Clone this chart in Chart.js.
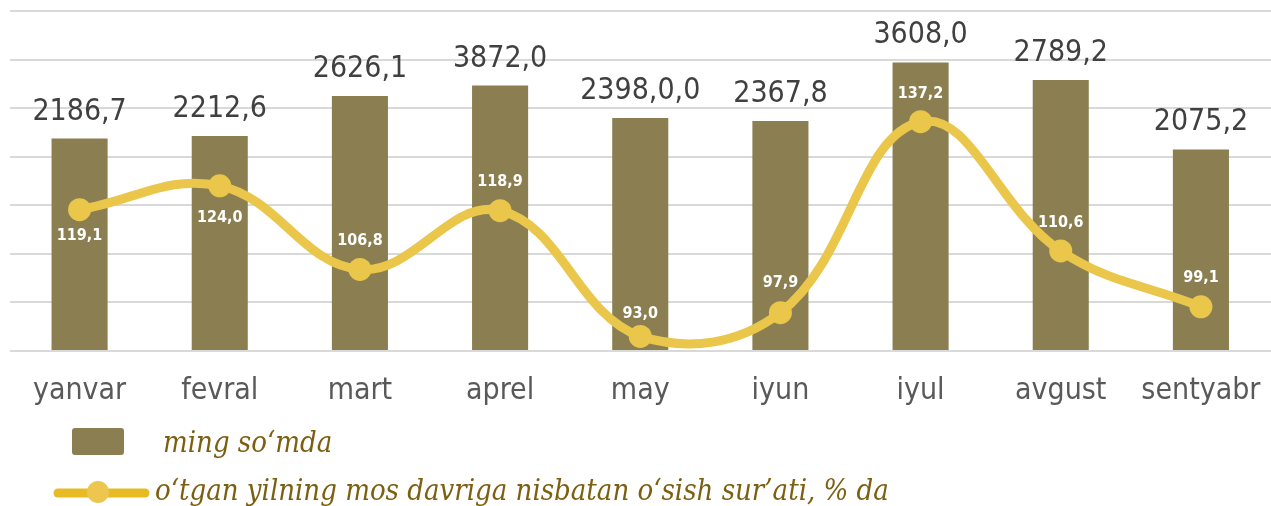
<!DOCTYPE html>
<html>
<head>
<meta charset="utf-8">
<script src="https://cdn.jsdelivr.net/npm/chart.js@4"></script>
<style>
  html, body { margin: 0; padding: 0; background: #fff; }
</style>
</head>
<body>
<canvas id="chart" width="1271" height="506"></canvas>
<script>
    // data
    const months = ['yanvar', 'fevral', 'mart', 'aprel', 'may', 'iyun', 'iyul', 'avgust', 'sentyabr'];
    // bar heights as drawn (aprel and iyul bars are shorter than their printed labels)
    const amounts = [2186.7, 2212.6, 2626.1, 2733, 2398.0, 2367.8, 2970, 2789.2, 2075.2];
    const amountLabels = ['2186,7', '2212,6', '2626,1', '3872,0', '2398,0,0', '2367,8', '3608,0', '2789,2', '2075,2'];
    const growth = [119.1, 124.0, 106.8, 118.9, 93.0, 97.9, 137.2, 110.6, 99.1];
    const growthLabels = ['119,1', '124,0', '106,8', '118,9', '93,0', '97,9', '137,2', '110,6', '99,1'];
    const seriesNames = ['ming so‘mda', 'o‘tgan yilning mos davriga nisbatan o‘sish sur’ati, % da'];

    // styles
    const barColor = '#8b7f51';
    const lineColor = '#eac64a';
    const sansCond = "'DejaVu Sans Condensed', 'DejaVu Sans', sans-serif";
    const serifCond = "'DejaVu Serif Condensed', 'DejaVu Serif', serif";
    // vertical offset of each growth label from its point (+ below, - above)
    const growthLabelShift = [26, 32, -29, -29, -23, -30, -28, -28, -29];

    // draws the value labels on bars and points
    const valueLabels = {
        id: 'valueLabels',
        afterDatasetsDraw(chart) {
            const ctx = chart.ctx;
            const barMeta = chart.getDatasetMeta(1);
            const lineMeta = chart.getDatasetMeta(0);
            ctx.save();
            ctx.textAlign = 'center';
            ctx.fillStyle = '#404040';
            ctx.font = '30px ' + sansCond;
            ctx.textBaseline = 'alphabetic';
            barMeta.data.forEach((bar, i) => {
                ctx.fillText(amountLabels[i], bar.x, bar.y - 19);
            });
            ctx.fillStyle = '#ffffff';
            ctx.font = 'bold 16px ' + sansCond;
            ctx.textBaseline = 'middle';
            lineMeta.data.forEach((pt, i) => {
                ctx.fillText(growthLabels[i], pt.x, pt.y + growthLabelShift[i]);
            });
            ctx.restore();
        }
    };

    // legend under the axis, two rows
    const bottomLegend = {
        id: 'bottomLegend',
        afterDraw(chart) {
            const ctx = chart.ctx;
            ctx.save();
            // row 1 - bar swatch
            ctx.fillStyle = barColor;
            ctx.beginPath();
            ctx.roundRect(72, 428, 52, 27, 3);
            ctx.fill();
            // row 2 - line swatch
            ctx.strokeStyle = '#e8bb25';
            ctx.lineWidth = 9;
            ctx.lineCap = 'round';
            ctx.beginPath();
            ctx.moveTo(58, 493);
            ctx.lineTo(145, 493);
            ctx.stroke();
            ctx.fillStyle = '#edc650';
            ctx.beginPath();
            ctx.arc(98, 492, 11, 0, Math.PI * 2);
            ctx.fill();

            ctx.fillStyle = '#7c5f10';
            ctx.font = 'italic 29px ' + serifCond;
            ctx.textAlign = 'left';
            ctx.textBaseline = 'alphabetic';
            ctx.fillText(seriesNames[0], 163, 452);
            ctx.fillText(seriesNames[1], 155, 500);
            ctx.restore();
        }
    };

    const chart = new Chart(document.getElementById('chart'), {
        data: {
            labels: months,
            datasets: [{
                type: 'line',
                label: seriesNames[1],
                data: growth,
                yAxisID: 'y1',
                borderColor: lineColor,
                backgroundColor: lineColor,
                borderWidth: 9,
                tension: 0.4,
                pointRadius: 11.5,
                pointBorderWidth: 0,
                pointBackgroundColor: lineColor,
                order: 0
            }, {
                type: 'bar',
                label: seriesNames[0],
                data: amounts,
                yAxisID: 'y',
                backgroundColor: barColor,
                barPercentage: 0.4,
                categoryPercentage: 1,
                order: 1
            }]
        },
        options: {
            responsive: false,
            animation: false,
            layout: {
                autoPadding: false,
                padding: { left: 9.5, right: 0, top: 11, bottom: 83 }
            },
            plugins: {
                legend: { display: false },
                tooltip: { enabled: false }
            },
            scales: {
                x: {
                    grid: { display: false },
                    border: { display: false },
                    ticks: {
                        color: '#595959',
                        font: { family: sansCond, size: 30 },
                        padding: 14,
                        maxRotation: 0,
                        autoSkip: false
                    },
                    afterFit(scale) {
                        scale.paddingLeft = 0;
                        scale.paddingRight = 0;
                    }
                },
                y: {
                    min: 0,
                    max: 3500,
                    ticks: { display: false, stepSize: 500 },
                    grid: { color: '#d9d9d9', lineWidth: 2, drawTicks: false },
                    border: { display: false }
                },
                y1: {
                    display: false,
                    min: 90,
                    max: 160
                }
            }
        },
        plugins: [valueLabels, bottomLegend]
    });
</script>
</body>
</html>
